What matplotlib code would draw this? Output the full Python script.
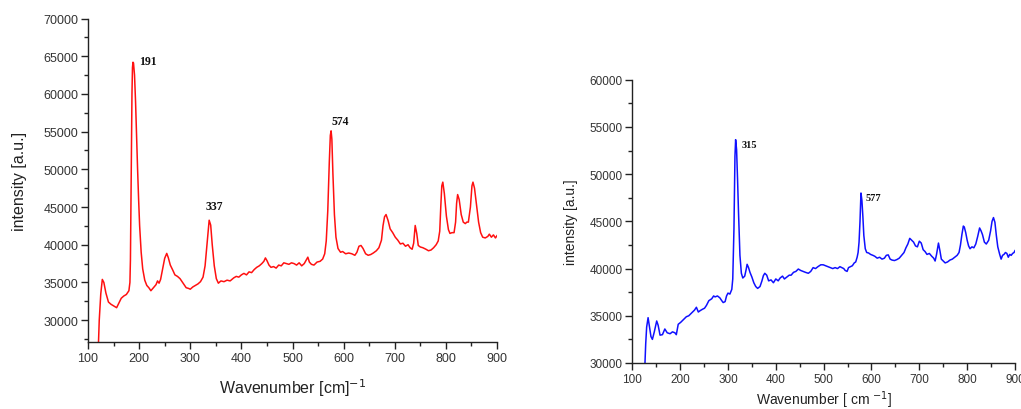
import matplotlib
matplotlib.use("Agg")
import matplotlib.pyplot as plt
from matplotlib.ticker import MultipleLocator

# ---- Left spectrum (red): (wavenumber, intensity) ----
left_points = [
    (120, 26000), (122, 30000), (125, 33500), (128, 35400), (131, 35000), (135, 33600),
    (140, 32400), (145, 32100), (150, 31900), (156, 31650), (160, 32200), (165, 32900),
    (170, 33200), (175, 33400), (180, 33900), (182, 35000), (183, 38000), (184, 45000),
    (185, 53000), (186, 60000), (187, 63500), (188, 64200), (189, 64100), (191, 62500),
    (193, 59000), (195, 54500), (197, 50000), (199, 46000), (201, 42500), (204, 39000),
    (207, 36800), (211, 35300), (215, 34600), (219, 34300), (223, 33900), (228, 34300),
    (233, 34700), (236, 35200), (239, 34900), (242, 35400), (246, 36800), (250, 38200),
    (254, 38850), (257, 38300), (261, 37300), (266, 36600), (270, 36000), (275, 35800),
    (280, 35500), (286, 34900), (292, 34300), (297, 34200), (300, 34100), (305, 34400),
    (310, 34600), (315, 34800), (320, 35100), (325, 35700), (329, 37200), (333, 40200),
    (337, 43250), (340, 42600), (343, 40000), (347, 37200), (351, 35500), (355, 34900),
    (360, 35200), (366, 35100), (372, 35300), (378, 35200), (385, 35600), (390, 35800),
    (395, 35700), (400, 36000), (405, 36200), (410, 36000), (415, 36400), (420, 36300),
    (425, 36700), (430, 37000), (435, 37200), (440, 37500), (444, 37800), (447, 38250),
    (450, 37900), (454, 37300), (458, 37000), (463, 37100), (468, 36900), (473, 37300),
    (478, 37200), (483, 37600), (488, 37500), (493, 37400), (498, 37600), (503, 37500),
    (508, 37300), (513, 37600), (518, 37200), (523, 37500), (527, 38000), (530, 38350),
    (533, 37700), (537, 37400), (542, 37300), (548, 37700), (554, 37800), (559, 38100),
    (563, 38800), (566, 40500), (569, 44500), (572, 51000), (574, 54500), (575.5, 55100),
    (577, 54000), (579, 49500), (582, 44000), (585, 41000), (589, 39500), (594, 39000),
    (598, 39100), (604, 38800), (610, 38900),
    (616, 38800), (622, 38600), (626, 39000), (630, 39800), (634, 39900), (638, 39500),
    (643, 38800), (648, 38600), (653, 38700), (658, 38900), (664, 39200), (669, 39600),
    (674, 40600), (677, 42500), (680, 43700), (683, 44000), (687, 43200), (691, 42100),
    (696, 41600), (701, 41000), (706, 40600), (711, 40100), (716, 40200), (721, 39800),
    (726, 40000), (730, 39600), (734, 39400), (737, 40200), (740, 42550), (743, 41500),
    (746, 39900), (750, 39700), (755, 39600), (761, 39400), (766, 39200), (771, 39300),
    (776, 39600), (781, 40000), (785, 40500), (788, 41800), (790, 45000), (792, 47800),
    (794, 48300), (797, 46800), (801, 43800), (805, 42000), (808, 41500), (812, 41600),
    (816, 41600), (819, 43000), (821, 45500), (823, 46650), (826, 46000), (830, 44000),
    (834, 43000), (838, 42800), (841, 43000), (844, 43000), (848, 45000), (851, 47800),
    (853, 48300), (856, 47500), (860, 45200), (864, 43000), (868, 41600), (872, 41000),
    (877, 40900), (882, 41100), (885, 41400), (889, 41000), (893, 41300), (897, 40900),
    (900, 41200),
]

# ---- Right spectrum (blue): (wavenumber, intensity) ----
right_points = [
    (126.5, 30000), (128, 32000), (130, 33800), (133, 34800), (136, 33800), (139, 32800),
    (142, 32500), (146, 33300), (151, 34450), (154, 34000), (158, 32950), (163, 33000),
    (168, 33600), (173, 33200), (179, 33100), (184, 33300), (189, 33200), (192, 33000),
    (196, 34100), (201, 34300), (207, 34600), (213, 34900), (218, 35000), (224, 35300),
    (230, 35600), (234, 35900), (238, 35400), (242, 35550), (247, 35700), (251, 35800),
    (255, 36100), (260, 36600), (266, 36800), (270, 37100), (273, 37000), (278, 37100),
    (283, 36900), (287, 36600), (290, 36400), (294, 36500), (297, 37100), (300, 37400),
    (304, 37300), (308, 37800), (310, 38900), (312.5, 44200), (314.6, 51900), (316, 53650),
    (318, 52600), (320, 49500), (322, 46000), (325, 41400), (328, 39500), (331, 39000),
    (335, 39200), (338, 39900), (340, 40450), (343, 40100), (346, 39600), (350, 39100),
    (354, 38500), (358, 38100), (362, 37900), (367, 38100), (371, 38700), (374, 39250),
    (377, 39500), (381, 39300), (385, 38700), (390, 38800), (395, 38500), (400, 38900),
    (405, 38700), (409, 39000), (414, 39200), (418, 38900), (423, 39100), (428, 39300),
    (432, 39300), (437, 39600), (442, 39700), (447, 39950), (452, 39800), (457, 39700),
    (462, 39600), (468, 39500), (473, 39700), (478, 40100), (483, 40000), (488, 40200),
    (494, 40400), (499, 40400), (504, 40300), (509, 40200), (514, 40100), (519, 40000),
    (524, 40100), (529, 40000), (534, 40200), (538, 40100), (542, 40000), (545, 39800),
    (549, 39700), (552, 40100), (556, 40200), (560, 40300), (564, 40600), (567, 40700),
    (570, 41200), (572, 41700), (574, 42800), (576, 45000), (578, 48000), (580, 47200),
    (582, 45500), (584, 43500), (587, 42100), (590, 41700), (594, 41650), (598, 41500),
    (603, 41400), (607, 41300), (612, 41100), (617, 41200), (622, 41000), (627, 41100),
    (631, 41400), (635, 41450), (639, 41000), (643, 40900), (648, 40850), (653, 40950),
    (658, 41100), (663, 41400), (668, 41700), (672, 42200), (676, 42600), (680, 43200),
    (684, 43000), (688, 42800), (692, 42400), (696, 42300), (700, 42900), (704, 42700),
    (708, 42000), (712, 41800), (716, 41500), (721, 41600), (726, 41300), (730, 41100),
    (733, 40800), (736, 41500), (740, 42700), (743, 41900), (746, 41000), (750, 40800),
    (754, 40600), (759, 40700), (764, 40900), (769, 41000), (774, 41200), (779, 41400),
    (783, 41700), (786, 42500), (789, 43600), (792, 44500), (794, 44400), (797, 43800),
    (800, 43000), (803, 42400), (806, 42100), (810, 42300), (814, 42200), (818, 42600),
    (822, 43400), (826, 44300), (829, 44000), (832, 43600), (836, 42800), (840, 42600),
    (845, 43000), (849, 44000), (852, 45000), (855, 45400), (858, 44900), (861, 43500),
    (864, 42300), (868, 41500), (871, 41000), (874, 41400), (877, 41500), (880, 41700),
    (883, 41600), (886, 41200), (889, 41500), (892, 41400), (895, 41600), (898, 41700),
    (900, 41900),
]

left_w = [p[0] for p in left_points]
left_i = [p[1] for p in left_points]
right_w = [p[0] for p in right_points]
right_i = [p[1] for p in right_points]

# ---- Peak annotations ----
left_labels = ["191", "337", "574"]
left_lab_pos = [(200, 64300, "left"), (347, 45200, "center"), (594, 56400, "center")]
right_labels = ["315", "577"]
right_lab_pos = [(329, 53100, "left"), (588, 47550, "left")]

W, H = 1021, 410
fig = plt.figure(figsize=(W / 100, H / 100), dpi=100)
label_col = "#222222"


def style(ax, ylo, yhi, tick_size):
    ax.set_xlim(100, 900)
    ax.set_ylim(ylo, yhi)
    for s in ("top", "right"):
        ax.spines[s].set_visible(False)
    for s in ("left", "bottom"):
        ax.spines[s].set_linewidth(1.0)
        ax.spines[s].set_color("#222222")
    ax.xaxis.set_major_locator(MultipleLocator(100))
    ax.xaxis.set_minor_locator(MultipleLocator(50))
    ax.yaxis.set_major_locator(MultipleLocator(5000))
    ax.yaxis.set_minor_locator(MultipleLocator(2500))
    ax.tick_params(which="major", direction="out", length=5, width=1.0,
                   color="#222222", labelsize=tick_size, labelcolor="#333333", pad=2)
    ax.tick_params(which="minor", direction="out", length=3, width=1.0, color="#222222")
    for lab in ax.get_xticklabels() + ax.get_yticklabels():
        lab.set_fontfamily("Liberation Sans")


# Left axes
ax1 = fig.add_axes([88 / W, 1 - 343 / H, (497 - 88) / W, (343 - 19.5) / H])
ax1.plot(left_w, left_i, color="#ff1010", lw=1.1)
style(ax1, 27100, 70000, 9)
for t, (x, y, ha) in zip(left_labels, left_lab_pos):
    ax1.text(x, y, t, ha=ha, va="center", fontsize=8.5, fontweight="bold",
             family="Liberation Serif", color="#111111")
ax1.set_xlabel("Wavenumber [cm]$^{-1}$", fontsize=11.5, family="Liberation Sans",
               color=label_col, labelpad=9)
ax1.set_ylabel("intensity [a.u.]", fontsize=11.5, family="Liberation Sans",
               color=label_col, labelpad=12)

# Right axes
ax2 = fig.add_axes([632.3 / W, 1 - 364 / H, (1015 - 632.3) / W, (364 - 80.7) / H])
ax2.plot(right_w, right_i, color="#1010ff", lw=1.1)
style(ax2, 30000, 60000, 8.5)
for t, (x, y, ha) in zip(right_labels, right_lab_pos):
    ax2.text(x, y, t, ha=ha, va="center", fontsize=7.5, fontweight="bold",
             family="Liberation Serif", color="#111111")
ax2.set_xlabel("Wavenumber [ cm $^{-1}$]", fontsize=10, family="Liberation Sans",
               color=label_col, labelpad=3)
ax2.set_ylabel("intensity [a.u.]", fontsize=10, family="Liberation Sans",
               color=label_col, labelpad=8)

fig.savefig("out.png", dpi=100)
